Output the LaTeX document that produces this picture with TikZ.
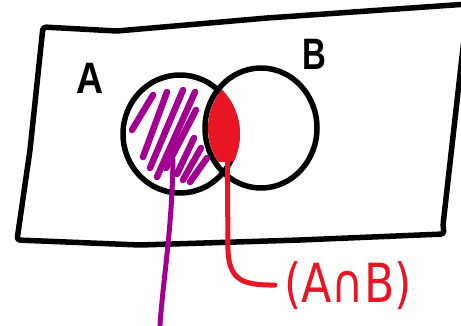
\documentclass[tikz,border=0pt]{standalone}
\usepackage{fontspec}
\usepackage{graphicx}
\setmainfont{Liberation Sans}
\newfontfamily\symfont{DejaVu Sans}
\usetikzlibrary{shapes.geometric}
\definecolor{hatchpurple}{RGB}{163,0,145}
\definecolor{markred}{RGB}{232,22,36}
\begin{document}
\begin{tikzpicture}[x=1pt,y=-1pt,
  outline/.style={line width=5.5pt, black, line cap=round, line join=round},
  setcircle/.style={ellipse, draw=black, line width=5.5pt, inner sep=0pt},
  hatch/.style={hatchpurple, line width=6.5pt, line cap=round},
  setlabel/.style={font=\fontsize{44}{44}\selectfont\bfseries, inner sep=0pt},
  pointer/.style={line width=5pt, line cap=round}]
\useasboundingbox (0,0) rectangle (461,325);
\clip (0,0) rectangle (461,325);
% universe
\draw[outline, rounded corners=3pt] (17,240) -- (30,150) -- (43,27) -- (117,31) -- (267,18) -- (468,4)
  -- (443,225) -- (444,234) -- (300,240) -- (140,245) -- cycle;
% sets
\node[setcircle, minimum width=114, minimum height=118] (A) at (180,134) {};
\node[setcircle, minimum width=112, minimum height=120] (B) at (261,128) {};
\node[setlabel] (la) at (90,78) {\scalebox{0.85}[1]{A}};
\node[setlabel] (lb) at (314,54) {\scalebox{0.75}[1]{B}};
% intersection fill
\begin{scope}
  \clip (A.center) ellipse [x radius=60, y radius=62];
  \clip (B.center) ellipse [x radius=53, y radius=57];
  \fill[markred] (200,80) rectangle (245,162);
\end{scope}
% hatching of A
\draw[hatch] (132,130) -- (153,95);
\draw[hatch] (143,157) -- (167,92);
\draw[hatch] (150,168) -- (183,90);
\draw[hatch] (157,177) -- (195,92);
\draw[hatch] (166,168) -- (196,110);
\draw[hatch] (177,174) -- (194,138);
\draw[hatch] (183,180) -- (201,148);
\draw[hatch] (190,182) -- (207,158);
% pointers
\coordinate (pstart) at (173,160);
\coordinate (pend) at (160,325);
\draw[pointer, hatchpurple] (pstart) .. controls (172,230) and (163,280) .. (pend);
\node[inner sep=0pt, anchor=base, font=\symfont\fontsize{54}{54}\selectfont, text=markred] (lbl) at (348,302) {\scalebox{0.82}[1]{(A∩B)}};
\coordinate (rstart) at (227,118);
\draw[pointer, markred] (rstart) -- (228,250) .. controls (229,282) and (245,285) .. ([xshift=-9pt]lbl.west);
\end{tikzpicture}
\end{document}
